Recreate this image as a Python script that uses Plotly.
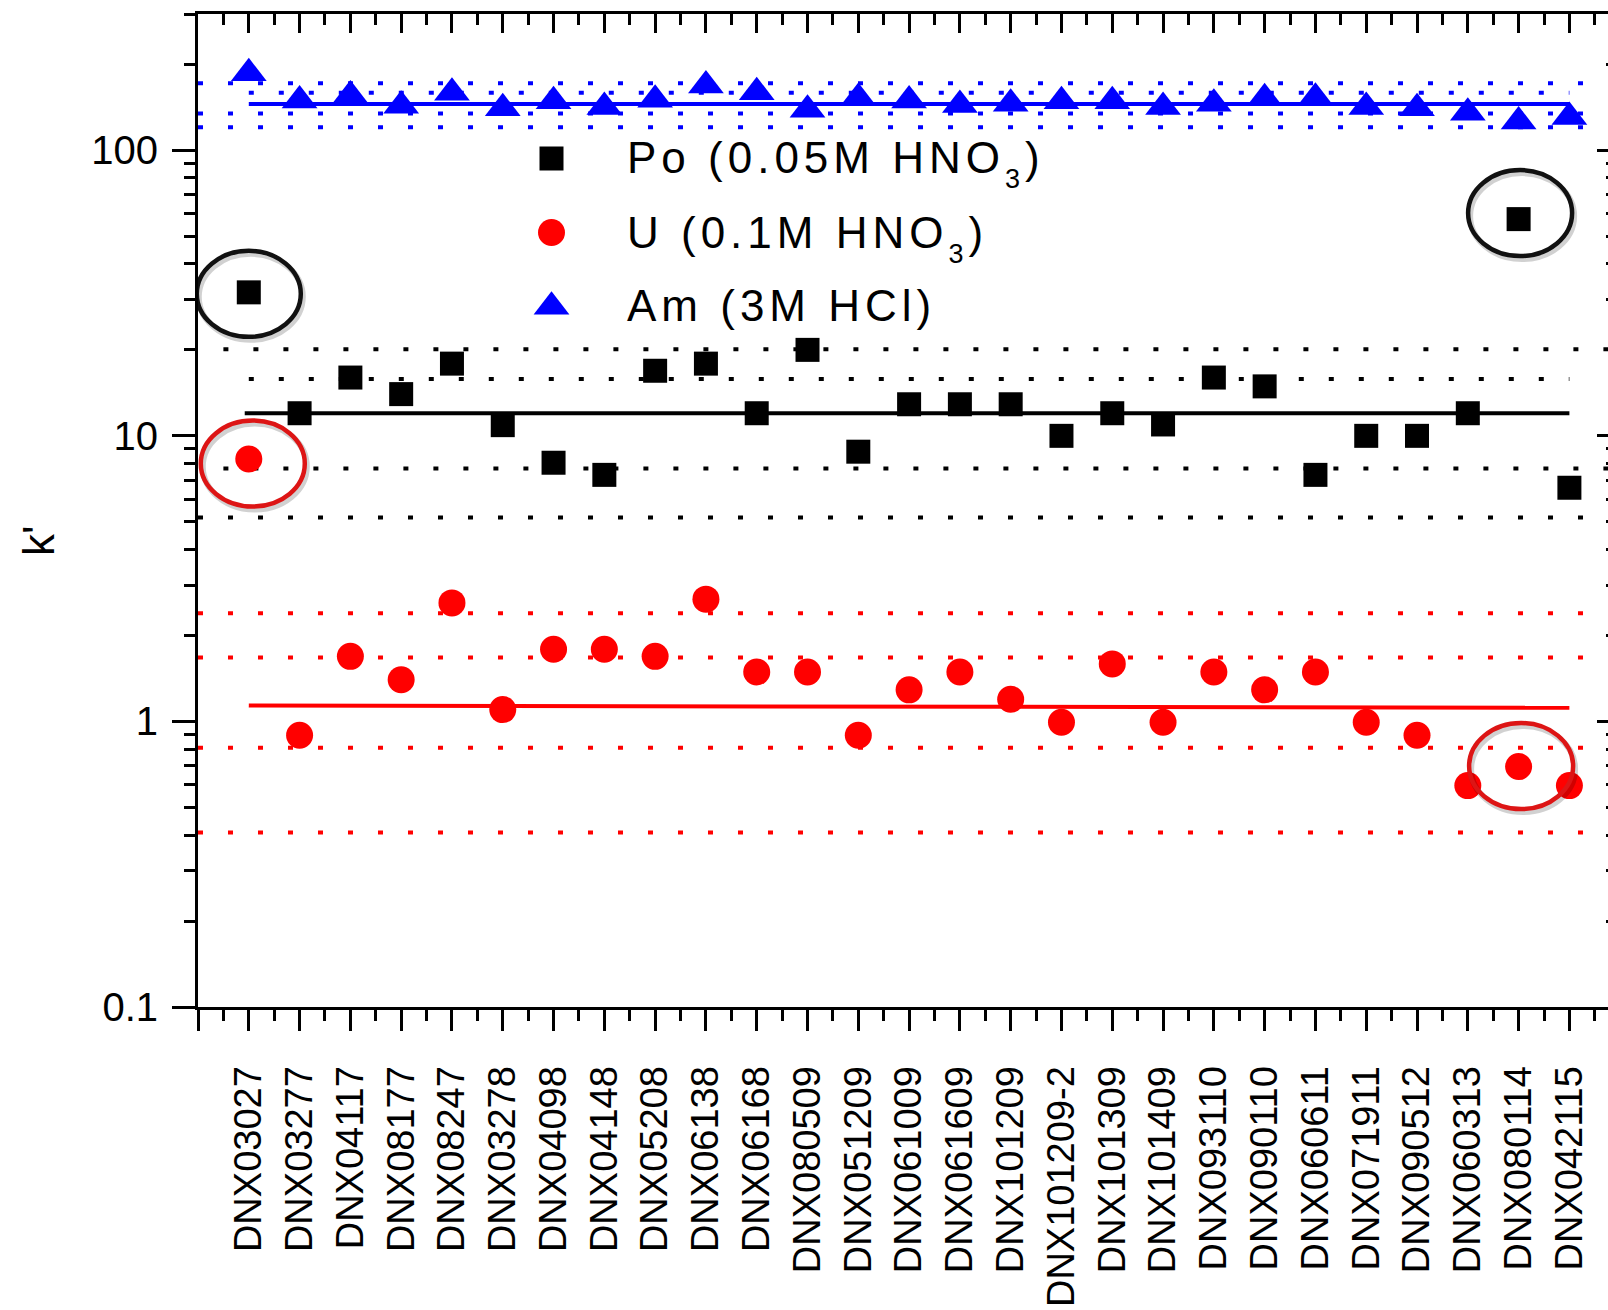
import numpy as np
import plotly.graph_objects as go

# ---------------- data ----------------
categories = ["DNX03027", "DNX03277", "DNX04117", "DNX08177", "DNX08247", "DNX03278",
              "DNX04098", "DNX04148", "DNX05208", "DNX06138", "DNX06168", "DNX080509",
              "DNX051209", "DNX061009", "DNX061609", "DNX101209", "DNX101209-2",
              "DNX101309", "DNX101409", "DNX093110", "DNX090110", "DNX060611",
              "DNX071911", "DNX090512", "DNX060313", "DNX080114", "DNX042115"]

po = [31.8, 12.0, 16.0, 14.0, 17.9, 10.9, 8.05, 7.3, 16.9, 17.9, 12.0, 20.0, 8.8,
      12.9, 12.9, 12.9, 10.0, 12.0, 10.96, 16.0, 14.9, 7.3, 10.0, 10.0, 12.0, 57.4, 6.58]
u = [8.3, 0.895, 1.69, 1.40, 2.60, 1.10, 1.79, 1.79, 1.69, 2.68, 1.49, 1.49, 0.895,
     1.29, 1.49, 1.195, 0.993, 1.59, 0.993, 1.49, 1.29, 1.49, 0.993, 0.895, 0.596, 0.695, 0.596]
am = [186, 149.5, 155.4, 143.3, 159, 140.3, 148.6, 141.6, 150.3, 168.5, 159.7, 138.7,
      152.4, 149.5, 144, 145.6, 148.6, 148.6, 141.6, 145.6, 152, 152.8, 141.6, 140.3,
      135.3, 126, 130.7]

# mean lines (value at start, value at end)
po_mean = [12.0, 12.0]
u_mean = [1.136, 1.117]
am_mean = [145.2, 145.2]
# dotted reference lines: value, span kind
po_bounds = [(20.1, "fullh"), (15.8, "inner"), (7.69, "fullh"), (5.18, "full")]
u_bounds = [(2.39, "full"), (1.675, "full"), (0.809, "full"), (0.408, "full")]
am_bounds = [(171.5, "full"), (159.0, "inner"), (134.6, "full"), (120.3, "full")]

# outliers that are circled: (series, index)
circled = [("po", 0), ("po", 25), ("u", 0), ("u", 25)]

y_tick_vals = [0.1, 1, 10, 100]
y_tick_text = ["0.1", "1", "10", "100"]

SUB = '<span style="font-size:27px;baseline-shift:-15px">3</span>'
legend_labels = ["Po (0.05M HNO" + SUB + ")", "U (0.1M HNO" + SUB + ")", "Am (3M HCl)"]

# ---------------- layout geometry ----------------
W, H = 1608, 1310
ML, MR, MT, MB = 198, 0, 14, 303
XMAX = 27.76
YRANGE = [-1, np.log10(300)]
FONT = "Liberation Sans, Arial, sans-serif"

BLACK, RED, BLUE = "#000000", "#ff0000", "#0000ff"

x = np.arange(1, len(categories) + 1)
x_first, x_last = x[0], x[-1]

PW, PH = W - ML - MR, H - MT - MB
PXU = PW / XMAX  # pixels per x unit

fig = go.Figure()

def span(kind):
    if kind == "full":
        return [0, XMAX]
    if kind == "fullh":
        return [0.5, XMAX]
    return [x_first, x_last]

# reference lines
for bounds, color in [(po_bounds, BLACK), (u_bounds, RED), (am_bounds, BLUE)]:
    for val, kind in bounds:
        fig.add_trace(go.Scatter(x=span(kind), y=[val, val], mode="lines",
                                 line=dict(color=color, width=4, dash="5px,25px"),
                                 showlegend=False, hoverinfo="skip"))

fig.add_trace(go.Scatter(x=[0.92, x_last], y=po_mean, mode="lines",
                         line=dict(color=BLACK, width=4), showlegend=False, hoverinfo="skip"))
fig.add_trace(go.Scatter(x=[x_first, x_last], y=u_mean, mode="lines",
                         line=dict(color=RED, width=4), showlegend=False, hoverinfo="skip"))
fig.add_trace(go.Scatter(x=[x_first, x_last], y=am_mean, mode="lines",
                         line=dict(color=BLUE, width=4), showlegend=False, hoverinfo="skip"))

# data points
fig.add_trace(go.Scatter(x=x, y=po, mode="markers", name="Po",
                         marker=dict(symbol="square", size=24, color=BLACK, line=dict(width=0)),
                         showlegend=False))
fig.add_trace(go.Scatter(x=x, y=u, mode="markers", name="U",
                         marker=dict(symbol="circle", size=27, color=RED, line=dict(width=0)),
                         showlegend=False))
fig.add_trace(go.Scatter(x=x, y=am, mode="markers", name="Am",
                         marker=dict(symbol="triangle-up", size=31, color=BLUE, line=dict(width=0)),
                         showlegend=False))

# dummy trace for top / right mirror axes
fig.add_trace(go.Scatter(x=[None], y=[None], xaxis="x2", yaxis="y2", showlegend=False,
                         hoverinfo="skip"))

# legend drawn on an invisible overlay axis (fractions of plot area)
def fx(px):
    return (px - ML) / PW
def fy(py):
    return (H - MB - py) / PH

leg_syms = [("square", 24, BLACK, 158.5), ("circle", 27, RED, 232.5), ("triangle-up", 31, BLUE, 306.7)]
for sym, sz, col, py in leg_syms:
    fig.add_trace(go.Scatter(x=[fx(551.5)], y=[fy(py)], mode="markers", xaxis="x3", yaxis="y3",
                             marker=dict(symbol=sym, size=sz, color=col, line=dict(width=0)),
                             showlegend=False, hoverinfo="skip"))

annotations = []
for lab, py in zip(legend_labels, [163, 238.5, 305]):
    annotations.append(dict(
        text='<span style="letter-spacing:5px">' + lab + '</span>',
        xref="paper", yref="paper", x=fx(625), y=fy(py), xanchor="left", yanchor="middle",
        showarrow=False, font=dict(family=FONT, size=44, color=BLACK)))

annotations.append(dict(text="k'", xref="paper", yref="paper", x=fx(38), y=fy(541),
                        xanchor="center", yanchor="middle", textangle=-90, showarrow=False,
                        font=dict(family=FONT, size=44, color=BLACK)))

# ellipses around circled outliers, centred on the data point (pixel offsets -> axis units)
series = {"po": po, "u": u}
ring_col = {"po": "#111111", "u": "#dd1515"}
ring_off = {("po", 0): (0, -1.5), ("po", 25): (1.5, 6), ("u", 0): (4, -4.6), ("u", 25): (2.5, 0.5)}

def yfrac(v):
    return (np.log10(v) - YRANGE[0]) / (YRANGE[1] - YRANGE[0])

shapes = []
RX, RY = 52, 43
for name, idx in circled:
    ox, oy = ring_off[(name, idx)]
    cx = float(x[idx])
    cy = yfrac(series[name][idx])
    for dx, dy, col, lw in [(2, -3, "rgba(0,0,0,0.18)", 6), (0, 0, ring_col[name], 4.5)]:
        shapes.append(dict(type="circle", xref="x", yref="paper", layer="above",
                           x0=cx + (ox + dx - RX) / PXU, x1=cx + (ox + dx + RX) / PXU,
                           y0=cy + (oy + dy - RY) / PH, y1=cy + (oy + dy + RY) / PH,
                           line=dict(color=col, width=lw)))

minor_y = [m * 10.0 ** e for e in range(-1, 3) for m in range(2, 10) if m * 10.0 ** e <= 300]

axis_common = dict(showgrid=False, zeroline=False, automargin=False)

fig.update_layout(
    width=W, height=H,
    margin=dict(l=ML, r=MR, t=MT, b=MB, pad=0),
    paper_bgcolor="white", plot_bgcolor="white",
    font=dict(family=FONT, color=BLACK),
    showlegend=False,
    xaxis=dict(axis_common, range=[0, XMAX], showline=True, linewidth=3, linecolor=BLACK,
               tickmode="array", tickvals=list(range(0, len(categories) + 1)),
               ticktext=[""] + categories, tickangle=-90,
               ticks="outside", ticklen=21, tickwidth=3, tickcolor=BLACK,
               ticklabelstandoff=20,
               tickfont=dict(family=FONT, size=38, color=BLACK),
               minor=dict(ticks="outside", ticklen=11, tickwidth=3, tickcolor=BLACK,
                          tick0=0.5, dtick=1)),
    yaxis=dict(axis_common, type="log", range=YRANGE, showline=True, linewidth=3,
               linecolor=BLACK, tickmode="array", tickvals=y_tick_vals, ticktext=y_tick_text,
               ticks="outside", ticklen=23, tickwidth=3, tickcolor=BLACK,
               ticklabelstandoff=6,
               tickfont=dict(family=FONT, size=40, color=BLACK),
               minor=dict(ticks="outside", ticklen=11, tickwidth=3, tickcolor=BLACK,
                          tickmode="array", tickvals=minor_y)),
    xaxis2=dict(axis_common, overlaying="x", side="top", anchor="y2", range=[0, XMAX],
                showline=True, linewidth=3, linecolor=BLACK, showticklabels=False,
                tickmode="array", tickvals=list(range(0, len(categories) + 1)),
                ticks="inside", ticklen=19, tickwidth=3, tickcolor=BLACK,
                minor=dict(ticks="inside", ticklen=11, tickwidth=3, tickcolor=BLACK,
                           tick0=0.5, dtick=1)),
    yaxis2=dict(axis_common, overlaying="y", side="right", anchor="x2", type="log",
                range=YRANGE, showline=False, showticklabels=False,
                tickmode="array", tickvals=y_tick_vals,
                ticks="inside", ticklen=11, tickwidth=3, tickcolor=BLACK,
                minor=dict(ticks="inside", ticklen=2, tickwidth=3, tickcolor=BLACK,
                           tickmode="array", tickvals=minor_y)),
    xaxis3=dict(overlaying="x", anchor="y3", range=[0, 1], visible=False, automargin=False),
    yaxis3=dict(overlaying="y", anchor="x3", range=[0, 1], visible=False, automargin=False),
    annotations=annotations,
    shapes=shapes,
)

fig.write_html("out.html")
